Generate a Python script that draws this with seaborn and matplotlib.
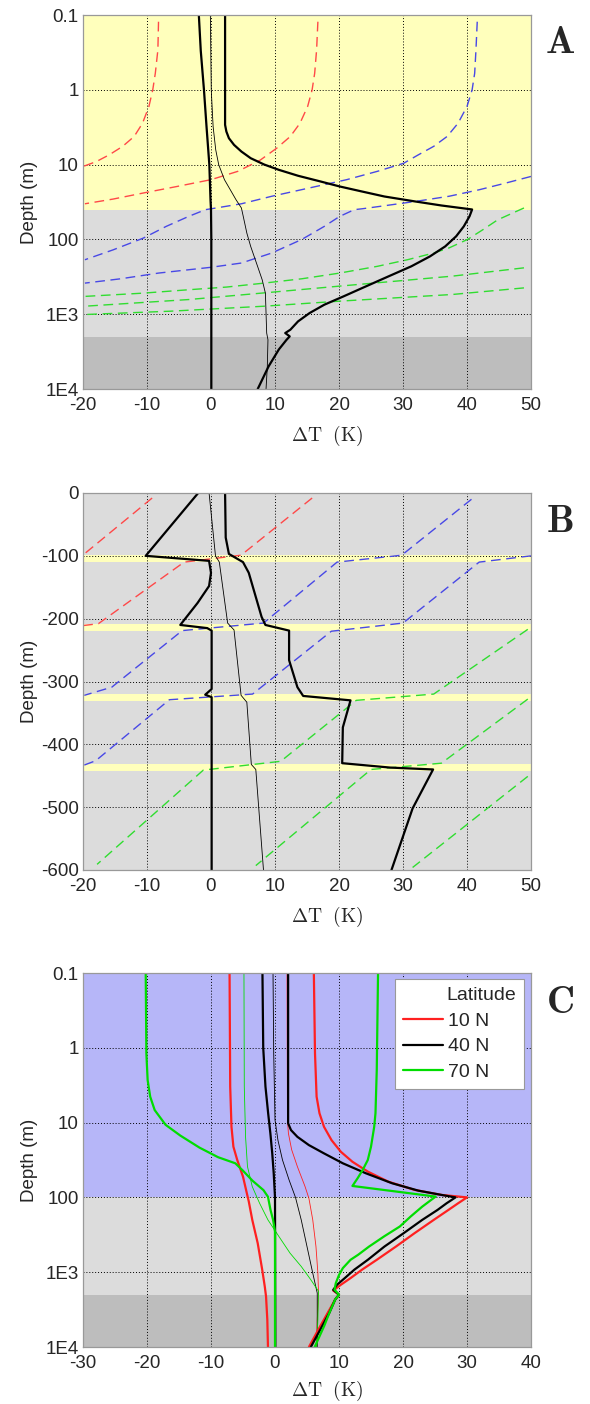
import numpy as np
import pandas as pd
import seaborn as sns
import matplotlib.pyplot as plt
from matplotlib.ticker import FixedLocator, FixedFormatter, NullLocator

# ---------------- panel A : log depth, 40 N ----------------
a_left_depth = [0.1, 0.3, 1, 3.1, 10, 29, 40, 100, 1000, 10000]
a_left_dt = [-1.9, -1.6, -1.1, -0.7, -0.26, -0.08, 0.0, 0.05, 0.05, 0.05]

a_right_depth = [0.1, 1, 2.94, 3.61, 4.44, 5.45, 6.69, 8.21, 9.97, 11.75, 14.1, 16.8, 19.6, 22.9, 26.7,
                 31.1, 35.2, 39.8, 49, 67, 91, 124, 169, 229, 313, 425, 578, 747, 966, 1248, 1612,
                 1786, 1979, 2200, 2960, 4980, 10000]
a_right_dt = [2.2, 2.2, 2.2, 2.4, 2.8, 3.6, 4.75, 6.2, 8.3, 10.6, 13.6, 17.1, 20.1, 23.6, 27.1, 31.9, 36.0,
              40.8, 40.4, 39.5, 38.3, 36.6, 34.2, 31.3, 27.7, 24.2, 20.7, 17.7, 15.4, 13.6, 12.4, 11.6,
              12.3, 11.8, 10.6, 9.0, 7.3]

a_thin_depth = [0.1, 1, 3.1, 6.35, 10, 15.9, 21.6, 29.4, 38, 49.3, 82.4, 124, 207, 347, 523, 966, 1786,
                2200, 4980, 10000]
a_thin_dt = [-0.1, 0.04, 0.33, 0.74, 1.2, 2.1, 3.0, 3.9, 4.75, 5.04, 5.6, 6.2, 7.1, 8.0, 8.5, 8.6, 8.7,
             8.9, 8.8, 8.6]

a_red1_depth = [0.123, 0.293, 0.6, 1.0, 1.67, 2.8, 4.2, 5.7, 7.4, 9.1, 10.6]
a_red1_dt = [-8.2, -8.3, -8.7, -9.1, -9.7, -10.7, -12.0, -13.8, -15.9, -17.9, -20.0]
a_red2_depth = [0.123, 0.293, 0.6, 1, 1.67, 2.8, 4.2, 6.0, 8.7, 12.3, 15.9, 19.6, 24, 28.9, 33.4]
a_red2_dt = [16.7, 16.5, 16.2, 15.8, 15.1, 13.9, 12.4, 10.3, 7.7, 4.2, 0.0, -5.3, -10.6, -15.3, -19.7]
a_blue1_depth = [0.123, 0.293, 0.6, 1, 1.67, 2.8, 4.2, 5.7, 7.4, 9.6, 12.3, 15.9, 20.5, 26.5, 33.4, 39,
                 40, 49.3, 67, 96.3, 138, 187]
a_blue1_dt = [41.6, 41.4, 41.2, 40.8, 40.0, 38.6, 36.9, 34.8, 32.4, 30.1, 26.0, 21.2, 15.4, 9.5, 4.75,
              0.0, -0.85, -3.5, -7.0, -10.6, -15.3, -19.7]
a_blue2_depth = [14.4, 17.7, 21.7, 26.5, 31.1, 35.5, 39, 40, 49.3, 67, 100, 152, 207, 236, 282, 336, 384]
a_blue2_dt = [50.0, 46.0, 41.9, 37.2, 31.9, 27.1, 23.6, 22.4, 20.1, 17.7, 14.2, 9.5, 4.75, 0.0, -8.2,
              -14.1, -19.7]
a_green1_depth = [38, 54.7, 74, 100, 130, 152, 187, 229, 282, 336, 384, 434, 471, 523, 578]
a_green1_dt = [48.9, 44.8, 42.5, 40.1, 37.2, 34.8, 30.7, 26.0, 20.1, 14.2, 8.3, 2.4, -3.5, -10.6, -19.7]
a_green2_depth = [240, 310, 422, 519, 637, 782]
a_green2_dt = [48.9, 37.7, 20.0, 8.3, -3.5, -19.7]
a_green3_depth = [445, 545, 670, 782, 912, 1010]
a_green3_dt = [48.9, 37.7, 20.0, 8.3, -6.4, -19.7]

# ---------------- panel B : linear depth ----------------
b_left_depth = [0, -100, -108, -127, -148, -175, -210, -215, -219, -312, -321, -325, -600]
b_left_dt = [-2.0, -10.2, -0.3, 0.0, -0.3, -2.1, -4.8, -0.6, 0.1, 0.1, -0.9, 0.1, 0.1]
b_right_depth = [0, -71, -97, -110, -127, -197, -210, -219, -266, -309, -323, -330, -373, -430, -437,
                 -440, -502, -600]
b_right_dt = [2.2, 2.3, 2.8, 5.0, 5.9, 7.9, 8.5, 12.2, 12.2, 13.5, 14.4, 21.8, 20.6, 20.5, 28.0, 34.7,
              31.5, 28.2]
b_thin_depth = [0, -100, -110, -207, -218, -322, -333, -432, -440, -600]
b_thin_dt = [-0.3, 0.7, 1.3, 2.6, 3.6, 4.7, 5.6, 6.3, 7.0, 8.2]

b_red1_depth = [-8, -97]
b_red1_dt = [-9.2, -19.8]
b_red2_depth = [-8, -99, -110, -208, -211]
b_red2_dt = [15.8, 4.7, -4.2, -17.6, -20.0]
b_blue1_depth = [-10, -99, -110, -207, -219, -309, -322]
b_blue1_dt = [40.7, 29.8, 19.7, 8.2, -4.5, -15.5, -19.8]
b_blue2_depth = [-100, -110, -207, -220, -320, -329, -426, -433]
b_blue2_dt = [50.0, 41.9, 30.0, 18.8, 6.5, -6.5, -18.0, -19.8]
b_green1_depth = [-217, -320, -330, -427, -441, -591]
b_green1_dt = [49.5, 34.8, 22.7, 10.9, -1.2, -17.8]
b_green2_depth = [-328, -430, -440, -593]
b_green2_dt = [49.5, 36.0, 25.0, 7.0]
b_green3_depth = [-451, -596]
b_green3_dt = [49.5, 31.5]
b_bands = [(-99, -110), (-209, -220), (-320, -331), (-431, -442)]

# ---------------- panel C : three latitudes ----------------
latitudes = ["10 N", "40 N", "70 N"]

c10_left_depth = [0.1, 3.3, 11.4, 21, 31.6, 52.8, 88, 113, 200, 410, 925, 1550, 2110, 4320, 10000]
c10_left_dt = [-7.1, -7.0, -6.8, -6.5, -5.9, -5.0, -4.4, -4.1, -3.55, -2.7, -2.0, -1.6, -1.4, -1.2, -1.1]
c10_right_depth = [0.1, 1.19, 4.5, 7.5, 11.4, 17.2, 24.6, 33.4, 45.2, 61.6, 79.4, 92.6, 100, 120, 147,
                   200, 301, 454, 683, 925, 1200, 1470, 1760, 2000, 2320, 3480, 5200, 10000]
c10_right_dt = [6.07, 6.25, 6.5, 6.95, 7.66, 8.84, 10.3, 12.1, 14.5, 17.7, 21.8, 26.0, 30.0, 28.6, 27.1,
                24.8, 21.8, 18.9, 15.9, 13.6, 11.8, 10.3, 9.1, 10.0, 9.4, 8.25, 7.1, 5.3]
c10_thin_depth = [0.1, 9.2, 14, 23, 38.8, 71.8, 103, 200, 454, 1030, 1900, 4320, 10000]
c10_thin_dt = [1.88, 1.94, 2.1, 2.6, 3.5, 4.7, 5.3, 5.9, 6.4, 6.7, 6.8, 6.6, 6.5]

c40_left_depth = [0.1, 1, 3.3, 7.5, 14, 25.8, 47.6, 100, 10000]
c40_left_dt = [-1.96, -1.84, -1.49, -1.07, -0.72, -0.43, -0.2, 0.0, 0.05]
c40_right_depth = [0.1, 10.2, 12.6, 15.5, 20, 25.8, 35, 47.6, 64.7, 81.2, 92.6, 100, 120, 147, 200, 301,
                   454, 683, 925, 1200, 1470, 1720, 2000, 2320, 3480, 5200, 10000]
c40_right_dt = [2.05, 2.05, 2.5, 3.5, 5.3, 7.66, 10.6, 14.2, 18.3, 22.4, 26.0, 28.2, 26.8, 25.4, 23.0,
                20.1, 17.1, 14.5, 12.4, 10.9, 9.7, 9.1, 10.0, 9.4, 8.5, 7.4, 5.6]
c40_thin_depth = [0.1, 1.19, 9.2, 17.2, 31.6, 58.5, 100, 200, 454, 1030, 1900, 10000]
c40_thin_dt = [-0.31, -0.2, 0.0, 0.46, 1.17, 2.2, 3.2, 4.1, 5.0, 5.9, 6.6, 6.6]

c70_left_depth = [0.1, 1.19, 2.7, 4.5, 6.8, 10.7, 14.9, 21.6, 29, 35, 44, 60, 80, 98, 147, 200, 286, 10000]
c70_left_dt = [-20.2, -20.1, -19.9, -19.5, -18.8, -17.1, -14.8, -11.8, -8.9, -6.2, -5.0, -3.5, -1.8,
               -1.1, -0.7, -0.3, 0.0, 0.0]
c70_right_depth = [0.1, 1.99, 7.5, 11.4, 21, 31.6, 43, 55.6, 70.3, 97.5, 133, 180, 245, 330, 454, 584,
                   683, 882, 1090, 1400, 1720, 2000, 2320, 3480, 5200, 10000]
c70_right_dt = [16.1, 15.9, 15.7, 15.5, 15.0, 14.5, 13.7, 12.9, 12.1, 25.1, 23.0, 21.2, 19.5, 17.1,
                14.7, 13.0, 11.8, 10.6, 10.0, 9.5, 9.3, 10.0, 9.4, 8.5, 7.7, 6.2]
c70_thin_depth = [0.1, 3.3, 15.5, 38.8, 71.8, 120, 200, 330, 556, 838, 1263, 1800, 4320, 10000]
c70_thin_dt = [-4.85, -4.8, -4.6, -4.3, -3.55, -2.4, -1.1, 0.58, 2.35, 4.1, 5.6, 6.8, 6.7, 6.5]

log_ticks = [0.1, 1, 10, 100, 1000, 10000]
log_labels = ["0.1", "1", "10", "100", "1E3", "1E4"]
lin_ticks = [0, -100, -200, -300, -400, -500, -600]

YELLOW = "#ffffbc"
LGRAY = "#dcdcdc"
DGRAY = "#bdbdbd"
BLUE = "#b6b6f8"
RED_D = "#ff4848"
BLUE_D = "#4848e6"
GREEN_D = "#30dd30"
RED = "#ff2020"
GREEN = "#00dd00"

sns.set_style("white")
plt.rcParams["font.family"] = ["Liberation Sans", "DejaVu Sans"]
plt.rcParams["mathtext.fontset"] = "cm"
plt.rcParams["axes.unicode_minus"] = False

fig = plt.figure(figsize=(5.9, 14.04), dpi=100)
L, W = 83 / 590, 448 / 590
ax_a = fig.add_axes([L, 1 - 389 / 1404, W, 374 / 1404])
ax_b = fig.add_axes([L, 1 - 870 / 1404, W, 377 / 1404])
ax_c = fig.add_axes([L, 1 - 1347 / 1404, W, 374 / 1404])

DASH = (0, (7, 4))


def curve(ax, dt, depth, color, lw, ls="-", label=None):
    kw = {} if label is None else {"label": label}
    sns.lineplot(x=dt, y=depth, ax=ax, sort=False, estimator=None, color=color,
                 lw=lw, ls=ls, **kw)


# ---- A ----
ax = ax_a
ax.set_yscale("log")
ax.axhspan(0.1, 40, color=YELLOW, zorder=0, lw=0)
ax.axhspan(40, 2000, color=LGRAY, zorder=0, lw=0)
ax.axhspan(2000, 10000, color=DGRAY, zorder=0, lw=0)
for d, t, c in [(a_red1_depth, a_red1_dt, RED_D), (a_red2_depth, a_red2_dt, RED_D),
                (a_blue1_depth, a_blue1_dt, BLUE_D), (a_blue2_depth, a_blue2_dt, BLUE_D),
                (a_green1_depth, a_green1_dt, GREEN_D), (a_green2_depth, a_green2_dt, GREEN_D),
                (a_green3_depth, a_green3_dt, GREEN_D)]:
    curve(ax, t, d, c, 1.0, DASH)
curve(ax, a_thin_dt, a_thin_depth, "black", 0.6)
curve(ax, a_left_dt, a_left_depth, "black", 1.6)
curve(ax, a_right_dt, a_right_depth, "black", 1.6)
ax.set_xlim(-20, 50)
ax.set_ylim(10000, 0.1)
ax.yaxis.set_major_locator(FixedLocator(log_ticks))
ax.yaxis.set_major_formatter(FixedFormatter(log_labels))
ax.yaxis.set_minor_locator(NullLocator())
ax.set_xticks(range(-20, 51, 10))

# ---- B ----
ax = ax_b
ax.axhspan(-600, 0, color=LGRAY, zorder=0, lw=0)
for top, bot in b_bands:
    ax.axhspan(bot, top, color=YELLOW, zorder=0, lw=0)
for d, t, c in [(b_red1_depth, b_red1_dt, RED_D), (b_red2_depth, b_red2_dt, RED_D),
                (b_blue1_depth, b_blue1_dt, BLUE_D), (b_blue2_depth, b_blue2_dt, BLUE_D),
                (b_green1_depth, b_green1_dt, GREEN_D), (b_green2_depth, b_green2_dt, GREEN_D),
                (b_green3_depth, b_green3_dt, GREEN_D)]:
    curve(ax, t, d, c, 1.0, DASH)
curve(ax, b_thin_dt, b_thin_depth, "black", 0.6)
curve(ax, b_left_dt, b_left_depth, "black", 1.6)
curve(ax, b_right_dt, b_right_depth, "black", 1.6)
ax.set_xlim(-20, 50)
ax.set_ylim(-600, 0)
ax.set_yticks(lin_ticks)
ax.set_xticks(range(-20, 51, 10))

# ---- C ----
ax = ax_c
ax.set_yscale("log")
ax.axhspan(0.1, 100, color=BLUE, zorder=0, lw=0)
ax.axhspan(100, 2000, color=LGRAY, zorder=0, lw=0)
ax.axhspan(2000, 10000, color=DGRAY, zorder=0, lw=0)
curve(ax, c10_thin_dt, c10_thin_depth, RED, 0.6)
curve(ax, c40_thin_dt, c40_thin_depth, "black", 0.6)
curve(ax, c70_thin_dt, c70_thin_depth, GREEN, 0.6)
curve(ax, c10_left_dt, c10_left_depth, RED, 1.6)
curve(ax, c10_right_dt, c10_right_depth, RED, 1.6, label=latitudes[0])
curve(ax, c40_left_dt, c40_left_depth, "black", 1.6)
curve(ax, c40_right_dt, c40_right_depth, "black", 1.6, label=latitudes[1])
curve(ax, c70_left_dt, c70_left_depth, GREEN, 1.6)
curve(ax, c70_right_dt, c70_right_depth, GREEN, 1.6, label=latitudes[2])
ax.set_xlim(-30, 40)
ax.set_ylim(10000, 0.1)
ax.yaxis.set_major_locator(FixedLocator(log_ticks))
ax.yaxis.set_major_formatter(FixedFormatter(log_labels))
ax.yaxis.set_minor_locator(NullLocator())
ax.set_xticks(range(-30, 41, 10))
leg = ax.legend(title="Latitude", loc="upper left", bbox_to_anchor=(0.696, 0.5, 0.288, 0.484),
                mode="expand", borderaxespad=0, fontsize=14, title_fontsize=14, frameon=True,
                fancybox=False, handlelength=2.1, handletextpad=0.25, labelspacing=0.42,
                borderpad=0.4, alignment="right", framealpha=1)
leg.get_frame().set_edgecolor("#999999")
leg.get_frame().set_linewidth(0.8)

for ax, letter, ly, xl in [(ax_a, "A", 43, -0.126), (ax_b, "B", 522, -0.124), (ax_c, "C", 1003, -0.117)]:
    ax.grid(True, color="black", ls=(0, (1, 2)), lw=0.7)
    ax.set_axisbelow(True)
    ax.tick_params(labelsize=13.5, direction="in", length=3, color="#666666")
    ax.tick_params(axis="x", pad=6)
    ax.tick_params(axis="y", pad=3)
    for s in ax.spines.values():
        s.set_color("#999999")
        s.set_linewidth(0.9)
    ax.set_ylabel("Depth (m)", fontsize=13.5)
    ax.yaxis.set_label_coords(-0.10, 0.5)
    ax.set_xlabel(r"$\Delta\mathrm{T}\ \ \mathrm{(K)}$", fontsize=14, va="center")
    ax.xaxis.set_label_coords(0.545, xl)
    fig.text(560 / 590, 1 - ly / 1404, r"$\mathbf{%s}$" % letter, fontsize=28,
             ha="center", va="center")

fig.savefig("out.png", dpi=100)
